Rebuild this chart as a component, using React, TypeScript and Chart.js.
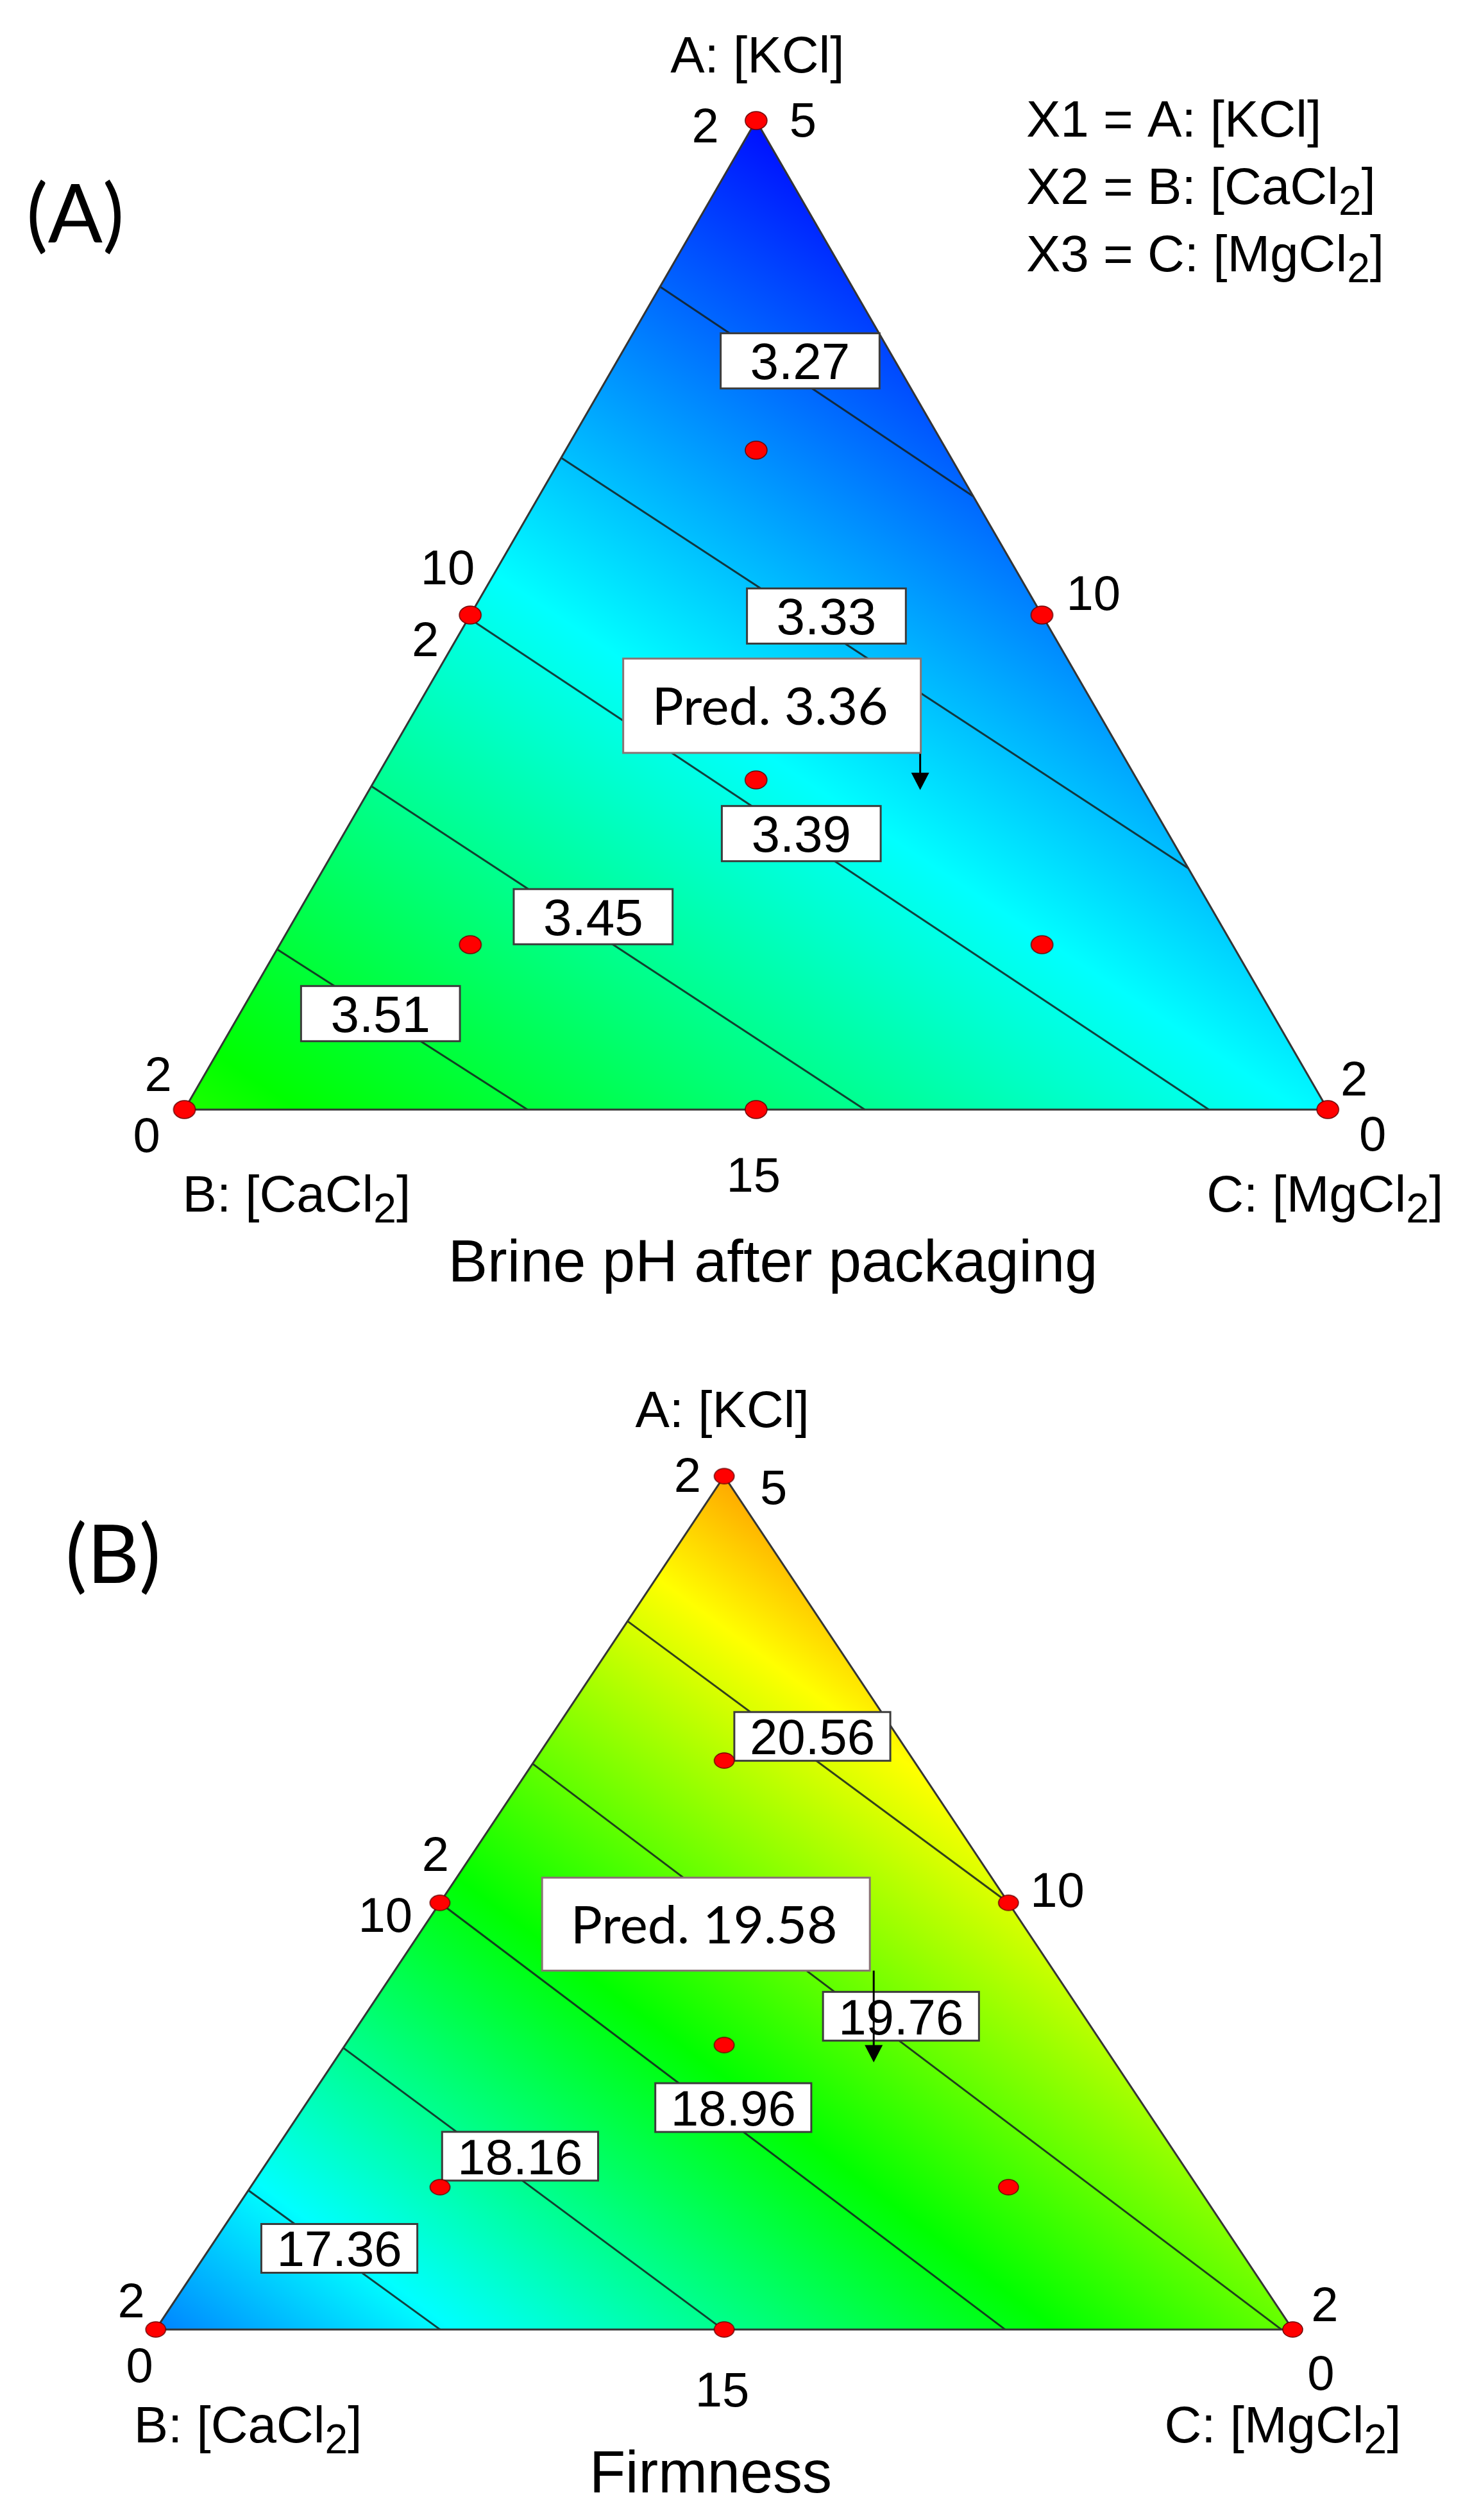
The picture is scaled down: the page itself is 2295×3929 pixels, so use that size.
import React, { useEffect, useRef } from "react";
import { Chart, registerables } from "chart.js";
Chart.register(...registerables);

// ================= DATA =================
// ternary coordinates are [A, B, C] fractions
const componentLabels = ["A: [KCl]", "B: [CaCl_2]", "C: [MgCl_2]"];
const legendLabels = ["X1 = A: [KCl]", "X2 = B: [CaCl_2]", "X3 = C: [MgCl_2]"];
const designPoints = [
  [1, 0, 0], [0, 1, 0], [0, 0, 1],
  [0.5, 0.5, 0], [0.5, 0, 0.5], [0, 0.5, 0.5],
  [0.6667, 0.1667, 0.1667], [0.1667, 0.6667, 0.1667], [0.1667, 0.1667, 0.6667],
  [0.3333, 0.3333, 0.3333],
];

// Panel A: Brine pH after packaging
const phTitle = "Brine pH after packaging";
const phTag = "(A)";
const phVertexValues = [3.21, 3.57, 3.37]; // predicted at A, B, C vertices
const phEdgeMidValues = [3.39, 3.29, 3.47]; // AB, AC, BC midpoints
const phContourLevels = [3.27, 3.33, 3.39, 3.45, 3.51];
const phContourFrom = [[0.832, 0.168, 0], [0.659, 0.341, 0], [0.497, 0.503, 0], [0.327, 0.673, 0], [0.162, 0.838, 0]];
const phContourTo = [[0.62, 0, 0.38], [0.244, 0, 0.756], [0, 0.104, 0.896], [0, 0.405, 0.595], [0, 0.7, 0.3]];
const phLabelAt = [[0.757, 0.083, 0.16], [0.499, 0.189, 0.312], [0.279, 0.321, 0.4], [0.195, 0.545, 0.26], [0.097, 0.78, 0.123]];
const phPredAt = [0.323, 0.195, 0.482];
const phPredValue = 3.36;
const phColorRange = [3.2, 3.9];
const phVertexTicks = [["2", "5"], ["2", "0"], ["2", "0"]];
const phEdgeTicks = [["10", "2"], ["10"], ["15"]]; // AB, AC, BC

// Panel B: Firmness
const fmTitle = "Firmness";
const fmTag = "(B)";
const fmVertexValues = [21.38, 16.57, 19.78];
const fmEdgeMidValues = [18.96, 20.56, 18.16];
const fmContourLevels = [20.56, 19.76, 18.96, 18.16, 17.36];
const fmContourFrom = [[0.83, 0.17, 0], [0.663, 0.337, 0], [0.5, 0.5, 0], [0.33, 0.67, 0], [0.163, 0.837, 0]];
const fmContourTo = [[0.5, 0, 0.5], [0, 0.01, 0.99], [0, 0.253, 0.747], [0, 0.501, 0.499], [0, 0.75, 0.25]];
const fmLabelAt = [[0.695, 0.075, 0.23], [0.367, 0.161, 0.472], [0.26, 0.362, 0.378], [0.203, 0.578, 0.219], [0.095, 0.791, 0.114]];
const fmPredAt = [0.313, 0.212, 0.475];
const fmPredValue = 19.58;
const fmColorRange = [15.7, 22.5];
const fmVertexTicks = [["2", "5"], ["2", "0"], ["2", "0"]];
const fmEdgeTicks = [["2", "10"], ["10"], ["15"]];

// ================= LAYOUT / STYLE =================
const W = 2295;
const ARIAL = '"Liberation Sans", Arial, sans-serif';
const CALIBRI = 'Lato, "Open Sans", sans-serif';

type Off = [number, number, CanvasTextAlign];

const layoutA = {
  height: 2060,
  left: [283, 1734], right: [2075, 1734], apexY: 183,
  tickFont: 76, compFont: 80, contourFont: 80, titleFont: 92,
  compOff: [[2, -75, "center"], [-3, 159, "left"], [180, 159, "right"]] as Off[],
  vertexTickOff: [
    [[-58, 34, "right"], [52, 25, "left"]],
    [[-41, -29, "center"], [-59, 66, "center"]],
    [[41, -22, "center"], [70, 64, "center"]],
  ] as Off[][],
  edgeTickOff: [
    [[7, -48, "right"], [-70, 64, "center"]],
    [[38, -8, "left"]],
    [[-4, 128, "center"]],
  ] as Off[][],
  title: [1205, 1998],
  tag: [41, 378],
  legend: [1600, [213, 318, 423]],
  boxH: 86, boxPad: 46,
  pred: { left: -463, right: 1, top: -205, bottom: -58 },
  dot: [17, 14],
};

const layoutB = {
  height: 1869,
  left: [238, 1576], right: [2020, 1576], apexY: 237,
  tickFont: 76, compFont: 80, contourFont: 78, titleFont: 92,
  compOff: [[-3, -76, "center"], [-34, 176, "left"], [169, 176, "right"]] as Off[],
  vertexTickOff: [
    [[-36, 25, "right"], [56, 44, "left"]],
    [[-38, -19, "center"], [-25, 82, "center"]],
    [[50, -13, "center"], [44, 94, "center"]],
  ] as Off[][],
  edgeTickOff: [
    [[-7, -50, "center"], [-43, 45, "right"]],
    [[34, 6, "left"]],
    [[-3, 120, "center"]],
  ] as Off[][],
  title: [1108, 1826],
  tag: [102, 408],
  legend: null as any,
  boxH: 76, boxPad: 24,
  pred: { left: -517, right: -6, top: -288, bottom: -143 },
  dot: [15.5, 12],
};

const panelA = {
  title: phTitle, tag: phTag, vertexValues: phVertexValues, edgeMidValues: phEdgeMidValues,
  levels: phContourLevels, from: phContourFrom, to: phContourTo, labelAt: phLabelAt,
  predAt: phPredAt, predValue: phPredValue, colorRange: phColorRange,
  vertexTicks: phVertexTicks, edgeTicks: phEdgeTicks, layout: layoutA, legend: true,
};
const panelB = {
  title: fmTitle, tag: fmTag, vertexValues: fmVertexValues, edgeMidValues: fmEdgeMidValues,
  levels: fmContourLevels, from: fmContourFrom, to: fmContourTo, labelAt: fmLabelAt,
  predAt: fmPredAt, predValue: fmPredValue, colorRange: fmColorRange,
  vertexTicks: fmVertexTicks, edgeTicks: fmEdgeTicks, layout: layoutB, legend: false,
};

// ================= HELPERS =================
const toXY = (t: number[]) => ({ x: t[2] + t[0] / 2, y: t[0] });

const cmapStops = [
  [0, 0, 255], [0, 255, 255], [0, 255, 0], [255, 255, 0], [255, 0, 0],
];

function drawRich(ctx: CanvasRenderingContext2D, text: string, x: number, y: number,
  align: CanvasTextAlign, size: number, family: string) {
  const parts = text.split(/(_\d)/).filter(Boolean).map((p) =>
    p.startsWith("_") ? { t: p.slice(1), sub: true } : { t: p, sub: false });
  const mainFont = `${size}px ${family}`;
  const subFont = `${Math.round(size * 0.8)}px ${family}`;
  const widths = parts.map((p) => { ctx.font = p.sub ? subFont : mainFont; return ctx.measureText(p.t).width; });
  const total = widths.reduce((s, v) => s + v, 0);
  let sx = align === "left" ? x : align === "right" ? x - total : x - total / 2;
  ctx.textAlign = "left";
  ctx.textBaseline = "alphabetic";
  ctx.fillStyle = "#000";
  parts.forEach((p, i) => {
    ctx.font = p.sub ? subFont : mainFont;
    ctx.fillText(p.t, sx, p.sub ? y + size * 0.21 : y);
    sx += widths[i];
  });
}

function makeDot(rx: number, ry: number) {
  const c = document.createElement("canvas");
  c.width = Math.ceil(rx * 2 + 4);
  c.height = Math.ceil(ry * 2 + 4);
  const g = c.getContext("2d")!;
  g.beginPath();
  g.ellipse(c.width / 2, c.height / 2, rx, ry, 0, 0, Math.PI * 2);
  g.fillStyle = "#ff0000";
  g.fill();
  g.lineWidth = 1.5;
  g.strokeStyle = "#6a0000";
  g.stroke();
  return c;
}

function buildConfig(spec: any): any {
  const L = spec.layout;
  const ux = L.right[0] - L.left[0];
  const uy = L.left[1] - L.apexY;
  const xMin = -L.left[0] / ux;
  const xMax = (W - L.left[0]) / ux;
  const yMax = L.left[1] / uy;
  const yMin = -(L.height - L.left[1]) / uy;

  const vv = spec.vertexValues;
  const mv = spec.edgeMidValues;
  const bAB = 4 * mv[0] - 2 * (vv[0] + vv[1]);
  const bAC = 4 * mv[1] - 2 * (vv[0] + vv[2]);
  const bBC = 4 * mv[2] - 2 * (vv[1] + vv[2]);
  const model = (a: number, b: number, c: number) =>
    vv[0] * a + vv[1] * b + vv[2] * c + bAB * a * b + bAC * a * c + bBC * b * c;

  const pix = (chart: any, t: number[]) => {
    const p = toXY(t);
    return [chart.scales.x.getPixelForValue(p.x), chart.scales.y.getPixelForValue(p.y)];
  };

  const fillPlugin = {
    id: "ternFill",
    beforeDatasetsDraw(chart: any) {
      const ctx = chart.ctx as CanvasRenderingContext2D;
      const xs = chart.scales.x, ys = chart.scales.y;
      const pa = pix(chart, [1, 0, 0]), pb = pix(chart, [0, 1, 0]), pc = pix(chart, [0, 0, 1]);
      const x0 = Math.floor(Math.min(pa[0], pb[0], pc[0])) - 1;
      const x1 = Math.ceil(Math.max(pa[0], pb[0], pc[0])) + 1;
      const y0 = Math.floor(Math.min(pa[1], pb[1], pc[1])) - 1;
      const y1 = Math.ceil(Math.max(pa[1], pb[1], pc[1])) + 1;
      const w = x1 - x0, h = y1 - y0;
      const off = document.createElement("canvas");
      off.width = w; off.height = h;
      const octx = off.getContext("2d")!;
      const img = octx.createImageData(w, h);
      const d = img.data;
      const vx0 = xs.getValueForPixel(x0 + 0.5), dvx = xs.getValueForPixel(x0 + 1.5) - vx0;
      const vy0 = ys.getValueForPixel(y0 + 0.5), dvy = ys.getValueForPixel(y0 + 1.5) - vy0;
      const lo = spec.colorRange[0], hi = spec.colorRange[1];
      for (let j = 0; j < h; j++) {
        const a = vy0 + j * dvy;
        for (let i = 0; i < w; i++) {
          const c = vx0 + i * dvx - a / 2;
          const b = 1 - a - c;
          if (a < -0.01 || b < -0.01 || c < -0.01) continue;
          let t = (model(a, b, c) - lo) / (hi - lo);
          t = Math.max(0, Math.min(1, t)) * 4;
          const s = Math.min(3, Math.floor(t));
          const f = t - s;
          const c0 = cmapStops[s], c1 = cmapStops[s + 1];
          const k = (j * w + i) * 4;
          d[k] = c0[0] + (c1[0] - c0[0]) * f;
          d[k + 1] = c0[1] + (c1[1] - c0[1]) * f;
          d[k + 2] = c0[2] + (c1[2] - c0[2]) * f;
          d[k + 3] = 255;
        }
      }
      octx.putImageData(img, 0, 0);
      ctx.save();
      ctx.beginPath();
      ctx.moveTo(pa[0], pa[1]); ctx.lineTo(pb[0], pb[1]); ctx.lineTo(pc[0], pc[1]);
      ctx.closePath();
      ctx.clip();
      ctx.drawImage(off, x0, y0);
      ctx.restore();
    },
    afterDatasetDraw(chart: any, args: any) {
      const ds = chart.data.datasets[args.index];
      if (!ds || ds.label !== "outline") return;
      // contour labels boxes
      const ctx = chart.ctx as CanvasRenderingContext2D;
      spec.levels.forEach((lv: number, i: number) => {
        const p = pix(chart, spec.labelAt[i]);
        const txt = lv.toFixed(2);
        ctx.font = `${L.contourFont}px ${ARIAL}`;
        const tw = ctx.measureText(txt).width;
        const bw = tw + 2 * L.boxPad, bh = L.boxH;
        ctx.fillStyle = "#ffffff";
        ctx.fillRect(p[0] - bw / 2, p[1] - bh / 2, bw, bh);
        ctx.lineWidth = 3;
        ctx.strokeStyle = "#3c3c3c";
        ctx.strokeRect(p[0] - bw / 2, p[1] - bh / 2, bw, bh);
        ctx.fillStyle = "#000";
        ctx.textAlign = "center";
        ctx.textBaseline = "alphabetic";
        ctx.fillText(txt, p[0], p[1] + L.contourFont * 0.358);
      });
    },
    afterDatasetsDraw(chart: any) {
      const ctx = chart.ctx as CanvasRenderingContext2D;
      // prediction flag
      const tip = pix(chart, spec.predAt);
      const P = L.pred;
      const bx0 = tip[0] + P.left, bx1 = tip[0] + P.right;
      const by0 = tip[1] + P.top, by1 = tip[1] + P.bottom;
      ctx.save();
      ctx.strokeStyle = "#000";
      ctx.lineWidth = 3;
      ctx.beginPath();
      ctx.moveTo(tip[0], by1);
      ctx.lineTo(tip[0], tip[1] - 24);
      ctx.stroke();
      ctx.fillStyle = "#000";
      ctx.beginPath();
      ctx.moveTo(tip[0] - 14, tip[1] - 27);
      ctx.lineTo(tip[0] + 14, tip[1] - 27);
      ctx.lineTo(tip[0], tip[1]);
      ctx.closePath();
      ctx.fill();
      ctx.fillStyle = "#ffffff";
      ctx.fillRect(bx0, by0, bx1 - bx0, by1 - by0);
      ctx.strokeStyle = "#8a7474";
      ctx.lineWidth = 3;
      ctx.strokeRect(bx0, by0, bx1 - bx0, by1 - by0);
      ctx.fillStyle = "#000";
      ctx.font = `82px ${CALIBRI}`;
      ctx.textAlign = "center";
      ctx.textBaseline = "alphabetic";
      ctx.fillText(`Pred. ${spec.predValue.toFixed(2)}`, (bx0 + bx1) / 2 - 3, (by0 + by1) / 2 + 30);
      ctx.restore();
    },
    afterDraw(chart: any) {
      const ctx = chart.ctx as CanvasRenderingContext2D;
      ctx.save();
      const verts = [[1, 0, 0], [0, 1, 0], [0, 0, 1]];
      const mids = [[0.5, 0.5, 0], [0.5, 0, 0.5], [0, 0.5, 0.5]];
      verts.forEach((v, i) => {
        const p = pix(chart, v);
        const o = L.compOff[i];
        drawRich(ctx, componentLabels[i], p[0] + o[0], p[1] + o[1], o[2], L.compFont, ARIAL);
        spec.vertexTicks[i].forEach((t: string, k: number) => {
          const q = L.vertexTickOff[i][k];
          drawRich(ctx, t, p[0] + q[0], p[1] + q[1], q[2], L.tickFont, ARIAL);
        });
      });
      mids.forEach((m, i) => {
        const p = pix(chart, m);
        spec.edgeTicks[i].forEach((t: string, k: number) => {
          const q = L.edgeTickOff[i][k];
          drawRich(ctx, t, p[0] + q[0], p[1] + q[1], q[2], L.tickFont, ARIAL);
        });
      });
      drawRich(ctx, spec.title, L.title[0], L.title[1], "center", L.titleFont, ARIAL);
      drawRich(ctx, spec.tag, L.tag[0], L.tag[1], "left", 126, CALIBRI);
      if (spec.legend && L.legend) {
        legendLabels.forEach((s, i) => drawRich(ctx, s, L.legend[0], L.legend[1][i], "left", 80, ARIAL));
      }
      ctx.restore();
    },
  };

  const dot = makeDot(L.dot[0], L.dot[1]);
  const datasets: any[] = [
    {
      label: "points", type: "scatter", data: designPoints.map(toXY),
      pointStyle: dot, pointRadius: 5, order: 0,
    },
    {
      label: "outline", type: "line", showLine: true,
      data: [toXY([0, 1, 0]), toXY([0, 0, 1]), toXY([1, 0, 0]), toXY([0, 1, 0])],
      borderColor: "#353535", borderWidth: 3, pointRadius: 0, fill: false, tension: 0, order: 1,
    },
    ...spec.levels.map((lv: number, i: number) => ({
      label: `contour ${lv}`, type: "line", showLine: true,
      data: [toXY(spec.from[i]), toXY(spec.to[i])],
      borderColor: "rgba(20,30,30,0.85)", borderWidth: 3, pointRadius: 0, fill: false, order: 2,
    })),
  ];

  return {
    type: "scatter",
    data: { datasets },
    options: {
      responsive: false,
      animation: false,
      devicePixelRatio: 1,
      events: [],
      layout: { padding: 0 },
      plugins: { legend: { display: false }, tooltip: { enabled: false }, title: { display: false } },
      scales: {
        x: { type: "linear", min: xMin, max: xMax, display: false, bounds: "data" },
        y: { type: "linear", min: yMin, max: yMax, display: false, bounds: "data" },
      },
    },
    plugins: [fillPlugin],
  };
}

function TernaryPanel({ spec }: { spec: any }) {
  const ref = useRef<HTMLCanvasElement>(null);
  useEffect(() => {
    const chart = new Chart(ref.current!, buildConfig(spec));
    return () => chart.destroy();
  }, [spec]);
  return (
    <canvas
      ref={ref}
      width={W}
      height={spec.layout.height}
      style={{ display: "block", width: `${W}px`, height: `${spec.layout.height}px` }}
    />
  );
}

export default function App() {
  useEffect(() => {
    document.body.style.margin = "0";
    document.body.style.background = "#ffffff";
  }, []);
  return (
    <div style={{ width: W, background: "#fff" }}>
      <TernaryPanel spec={panelA} />
      <TernaryPanel spec={panelB} />
    </div>
  );
}
